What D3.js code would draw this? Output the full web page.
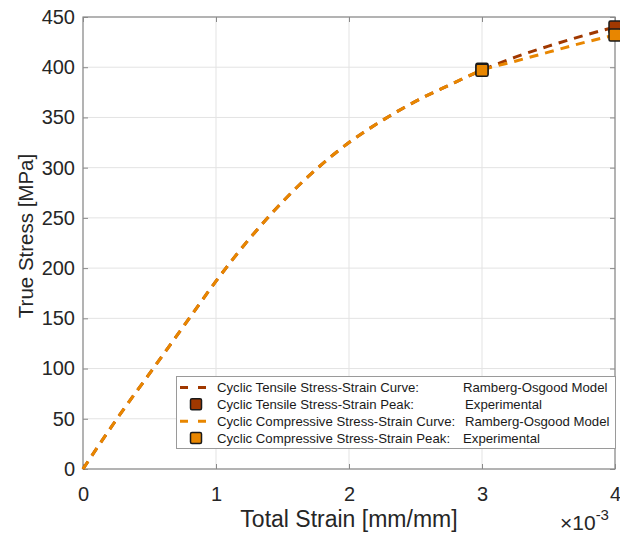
<!DOCTYPE html>
<meta charset="utf-8">
<style>
  body{ margin:0; background:#fff; }
  text{ font-family: "Liberation Sans", Arial, Helvetica, sans-serif; fill:#262626; }
  .tick text{ font-size:20px; }
  .grid line{ stroke:#e3e3e3; stroke-width:1; }
  .frame{ fill:none; stroke:#8a8a8a; stroke-width:1.2; }
  .legend text{ font-size:13.2px; fill:#1a1a1a; }
</style>
<body>
<div id="chart"></div>
<script src="https://cdn.jsdelivr.net/npm/d3@7"></script>
<script>

// strain values are in units of 1e-3 mm/mm
var strain      = [0, 0.25, 0.5, 0.75, 1.0, 1.25, 1.5, 1.75, 2.0, 2.25, 2.5, 2.75, 3.0, 3.25, 3.5, 3.75, 4.0];
var tensile     = [0, 49, 95, 141, 187, 229, 266, 298, 325, 347, 366, 382, 397, 410, 421, 431, 440];
var compressive = [0, 49, 95, 141, 187, 229, 266, 298, 325, 347, 366, 382, 397, 406, 415, 424, 432];

var peakStrain      = [3, 4];
var tensilePeak     = [398, 440];
var compressivePeak = [397, 432];

var xTicks = [0, 1, 2, 3, 4];
var yTicks = [0, 50, 100, 150, 200, 250, 300, 350, 400, 450];

var legendLabels = [
  ['Cyclic Tensile Stress-Strain Curve:', 'Ramberg-Osgood Model'],
  ['Cyclic Tensile Stress-Strain Peak:', 'Experimental'],
  ['Cyclic Compressive Stress-Strain Curve:', 'Ramberg-Osgood Model'],
  ['Cyclic Compressive Stress-Strain Peak:', 'Experimental']
];

var tensileColor = '#a03800', compColor = '#e88600';

var W = 620, H = 533;
var m = {left:83, top:17, right:5, bottom:64};
var w = W - m.left - m.right, h = H - m.top - m.bottom;

var svg = d3.select('#chart').append('svg').attr('width', W).attr('height', H);
var g = svg.append('g').attr('transform', 'translate(' + m.left + ',' + m.top + ')');

var x = d3.scaleLinear().domain([0, 4]).range([0, w]);
var y = d3.scaleLinear().domain([0, 450]).range([h, 0]);

// grid
g.append('g').attr('class','grid')
  .selectAll('line.v').data(xTicks).enter().append('line')
  .attr('x1', x).attr('x2', x).attr('y1', 0).attr('y2', h);
g.append('g').attr('class','grid')
  .selectAll('line.h').data(yTicks).enter().append('line')
  .attr('y1', y).attr('y2', y).attr('x1', 0).attr('x2', w);

// axes with inward ticks (box on)
var xAxis = g.append('g').attr('transform','translate(0,' + h + ')')
  .call(d3.axisBottom(x).tickValues(xTicks).tickSizeInner(-5).tickSizeOuter(0).tickPadding(14).tickFormat(d3.format('d')));
var yAxis = g.append('g')
  .call(d3.axisLeft(y).tickValues(yTicks).tickSizeInner(-5).tickSizeOuter(0).tickPadding(8));
g.append('g').call(d3.axisTop(x).tickValues(xTicks).tickSizeInner(-5).tickSizeOuter(0).tickFormat(''));
g.append('g').attr('transform','translate(' + w + ',0)')
  .call(d3.axisRight(y).tickValues(yTicks).tickSizeInner(-5).tickSizeOuter(0).tickFormat(''));
g.selectAll('.domain').remove();
g.selectAll('.tick line').attr('stroke', '#8a8a8a');
g.selectAll('.tick text').attr('fill', '#262626');
xAxis.selectAll('.tick text').attr('dy', '0.9em');

g.append('rect').attr('class','frame').attr('width', w).attr('height', h);

// curves
var line = d3.line()
  .x(function(d){ return x(d[0]); })
  .y(function(d){ return y(d[1]); })
  .curve(d3.curveMonotoneX);

g.append('path')
  .attr('d', line(d3.zip(strain, tensile)))
  .attr('fill','none').attr('stroke', tensileColor).attr('stroke-width', 3)
  .attr('stroke-dasharray', '9,7');
g.append('path')
  .attr('d', line(d3.zip(strain, compressive)))
  .attr('fill','none').attr('stroke', compColor).attr('stroke-width', 3)
  .attr('stroke-dasharray', '9,7');

// peaks
var ms = 12;
function peaks(vals, color){
  g.append('g').selectAll('rect').data(d3.zip(peakStrain, vals)).enter().append('rect')
    .attr('x', function(d){ return x(d[0]) - ms/2; })
    .attr('y', function(d){ return y(d[1]) - ms/2; })
    .attr('width', ms).attr('height', ms).attr('rx', 1.5)
    .attr('fill', color).attr('stroke', '#1a1a1a').attr('stroke-width', 1.5);
}
peaks(tensilePeak, tensileColor);
peaks(compressivePeak, compColor);

// legend
var leg = svg.append('g').attr('class','legend');
leg.append('rect').attr('x', 176.5).attr('y', 376.5).attr('width', 439).attr('height', 72)
  .attr('fill','#fff').attr('stroke','#9a9a9a').attr('stroke-width', 1);
var rowY = [387.5, 404.3, 421.2, 438];
legendLabels.forEach(function(lab, i){
  var cy = rowY[i];
  var col = i < 2 ? tensileColor : compColor;
  if(i % 2 === 0){
    leg.append('line').attr('x1', 180).attr('x2', 213).attr('y1', cy).attr('y2', cy)
      .attr('stroke', col).attr('stroke-width', 3).attr('stroke-dasharray', '8,10');
  }else{
    leg.append('rect').attr('x', 196 - 5.5).attr('y', cy - 5.5).attr('width', 11).attr('height', 11)
      .attr('rx', 1.5).attr('fill', col).attr('stroke', '#1a1a1a').attr('stroke-width', 1.5);
  }
  leg.append('text').attr('x', 217).attr('y', cy + 4.5).text(lab[0]);
  leg.append('text').attr('x', (i === 0 || i === 3) ? 463 : 465).attr('y', cy + 4.5).text(lab[1]);
});

// axis labels
svg.append('text').attr('x', m.left + w/2).attr('y', 527).attr('text-anchor','middle')
  .style('font-size','23px').text('Total Strain [mm/mm]');
svg.append('text').attr('transform','translate(33,236) rotate(-90)')
  .attr('text-anchor','middle').style('font-size','20.5px').text('True Stress [MPa]');

var mult = svg.append('text').attr('x', 560).attr('y', 530).style('font-size','21px');
mult.append('tspan').text('\u00d710');
mult.append('tspan').attr('dy', -10).style('font-size','15px').text('-3');

</script>
</body>
</html>
